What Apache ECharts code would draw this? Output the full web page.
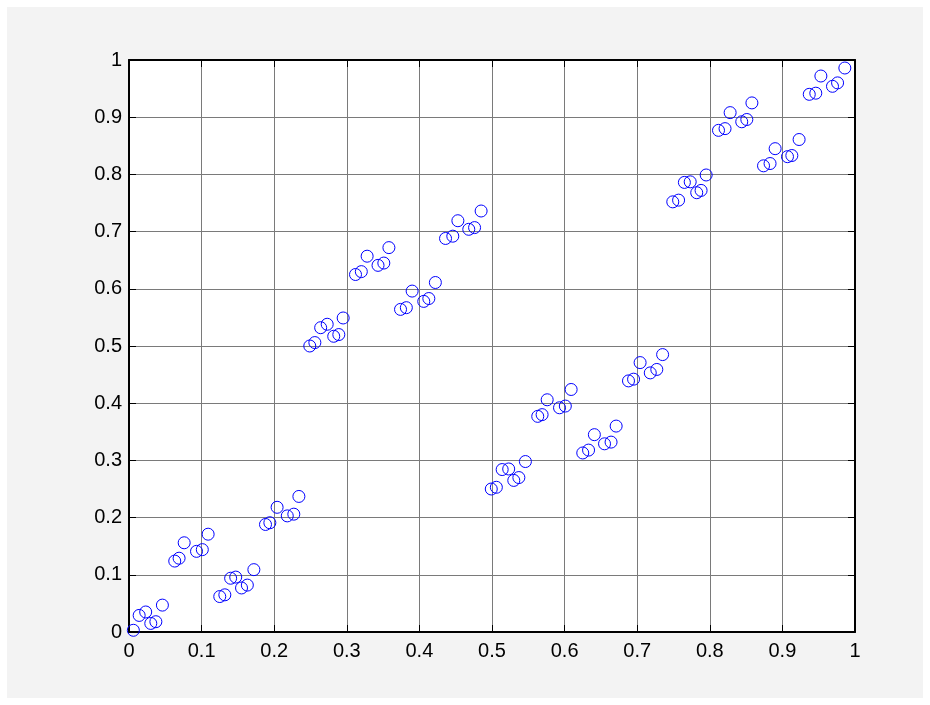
<!DOCTYPE html>
<html>
<head>
<meta charset="utf-8">
<script src="https://cdn.jsdelivr.net/npm/echarts@6/dist/echarts.min.js"></script>
<style>
html,body{margin:0;padding:0;background:#ffffff;}
#chart{width:930px;height:705px;}
</style>
</head>
<body>
<div id="chart"></div>
<script>
// Points, grouped by the four blocks of the plot
const block1X = [0.006,0.014,0.023,0.030,0.037,0.046, 0.063,0.069,0.076,0.093,0.101,0.109, 0.125,0.132,0.140,0.147,0.155,0.163,0.172, 0.188,0.194,0.204,0.218,0.227,0.234];
const block1Y = [0.003,0.029,0.035,0.015,0.018,0.047, 0.124,0.129,0.156,0.141,0.144,0.171, 0.062,0.065,0.094,0.096,0.077,0.082,0.109, 0.188,0.191,0.218,0.203,0.206,0.237];
const block2X = [0.249,0.256,0.264,0.273,0.282,0.289,0.295, 0.312,0.320,0.328,0.343,0.351,0.358, 0.374,0.382,0.390,0.406,0.413,0.422, 0.436,0.446,0.453,0.468,0.476,0.485];
const block2Y = [0.500,0.506,0.532,0.538,0.517,0.520,0.549, 0.625,0.630,0.657,0.641,0.645,0.672, 0.564,0.567,0.596,0.578,0.583,0.611, 0.688,0.692,0.719,0.704,0.707,0.736];
const block3X = [0.499,0.506,0.514,0.523,0.530,0.537,0.546, 0.563,0.569,0.576,0.593,0.601,0.609, 0.625,0.633,0.641,0.655,0.664,0.671, 0.688,0.695,0.704,0.718,0.727,0.735];
const block3Y = [0.250,0.253,0.284,0.285,0.265,0.270,0.298, 0.377,0.380,0.406,0.392,0.395,0.424, 0.313,0.318,0.345,0.329,0.332,0.360, 0.439,0.442,0.471,0.453,0.459,0.485];
const block4X = [0.749,0.757,0.765,0.773,0.782,0.788,0.795, 0.812,0.821,0.828,0.844,0.851,0.858, 0.874,0.883,0.890,0.907,0.913,0.923, 0.937,0.946,0.953,0.969,0.976,0.986];
const block4Y = [0.752,0.755,0.786,0.787,0.768,0.772,0.799, 0.877,0.880,0.908,0.892,0.896,0.925, 0.815,0.819,0.845,0.831,0.833,0.861, 0.940,0.942,0.972,0.954,0.960,0.986];

const xTickLabels = ['0','0.1','0.2','0.3','0.4','0.5','0.6','0.7','0.8','0.9','1'];
const yTickLabels = ['0','0.1','0.2','0.3','0.4','0.5','0.6','0.7','0.8','0.9','1'];

const allX = block1X.concat(block2X, block3X, block4X);
const allY = block1Y.concat(block2Y, block3Y, block4Y);
const points = allX.map((x, i) => [x, allY[i]]);

const FONT = '"Liberation Sans", Arial, sans-serif';
const axisColor = '#000000';
const gridColor = '#7a7a7a';

function baseAxis(labels, pos, showLabels, showSplit) {
  return {
    type: 'value',
    position: pos,
    min: 0, max: 1, interval: 0.1,
    axisLine: { show: true, onZero: false, lineStyle: { color: axisColor, width: 2 } },
    axisTick: { show: true, inside: true, length: 7, lineStyle: { color: axisColor, width: 1 } },
    axisLabel: {
      show: showLabels,
      color: '#000000',
      fontSize: 20,
      fontFamily: FONT,
      margin: pos === 'bottom' ? 9 : 7,
      formatter: v => labels[Math.round(v * 10)]
    },
    splitLine: { show: showSplit, lineStyle: { color: gridColor, width: 1 } }
  };
}

const chart = echarts.init(document.getElementById('chart'), null, { renderer: 'canvas' });
chart.setOption({
  animation: false,
  backgroundColor: '#ffffff',
  graphic: [{
    type: 'rect', z: -10, silent: true,
    shape: { x: 7, y: 7, width: 916, height: 691 },
    style: { fill: '#f3f3f3' }
  }],
  grid: {
    left: 129, right: 75, top: 60, bottom: 73,
    show: true, backgroundColor: '#ffffff', borderWidth: 0
  },
  xAxis: [
    baseAxis(xTickLabels, 'bottom', true, true),
    baseAxis(xTickLabels, 'top', false, false)
  ],
  yAxis: [
    baseAxis(yTickLabels, 'left', true, true),
    baseAxis(yTickLabels, 'right', false, false)
  ],
  series: [{
    type: 'scatter',
    xAxisIndex: 0, yAxisIndex: 0,
    data: points,
    symbol: 'circle',
    symbolSize: 12,
    itemStyle: { color: 'rgba(0,0,0,0)', borderColor: '#0000ff', borderWidth: 1, opacity: 1 },
    emphasis: { disabled: true }
  }]
});
</script>
</body>
</html>
